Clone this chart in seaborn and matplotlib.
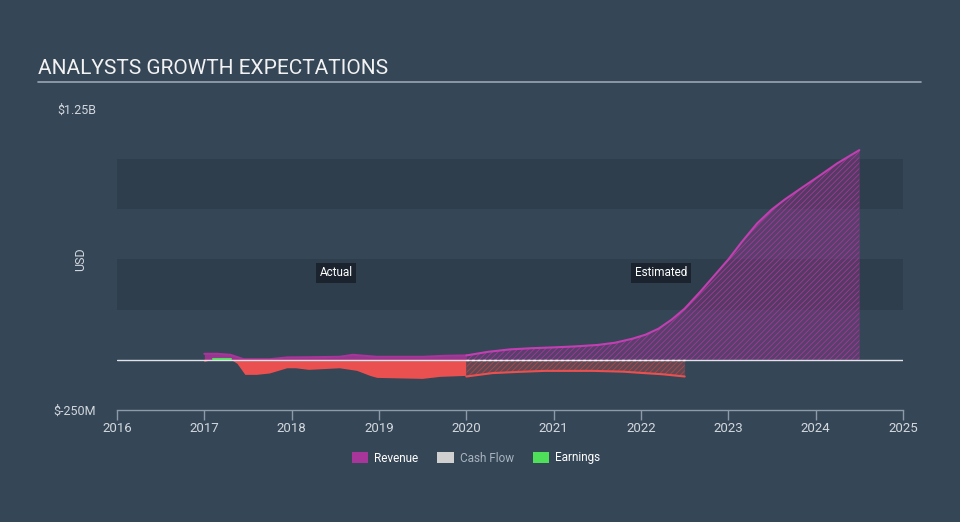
import numpy as np
import pandas as pd
import matplotlib
matplotlib.use("Agg")
import matplotlib.pyplot as plt
import seaborn as sns
from matplotlib.patches import Patch
from matplotlib.lines import Line2D

# ---- data (USD billions) ----
rev_act_x = [2017.0, 2017.15, 2017.3, 2017.45, 2017.75, 2017.95, 2018.2, 2018.55, 2018.7, 2018.98, 2019.5, 2019.75, 2020.0]
rev_act_y = [0.03, 0.03, 0.025, 0.003, 0.003, 0.012, 0.013, 0.015, 0.025, 0.015, 0.015, 0.02, 0.022]
rev_est_x = [2020.0, 2020.25, 2020.5, 2020.75, 2021.0, 2021.25, 2021.5, 2021.7, 2021.9, 2022.05, 2022.2, 2022.35, 2022.5,
             2022.68, 2022.85, 2023.0, 2023.15, 2023.33, 2023.5, 2023.65, 2023.85, 2024.02, 2024.25, 2024.5]
rev_est_y = [0.022, 0.04, 0.052, 0.058, 0.062, 0.067, 0.074, 0.085, 0.105, 0.125, 0.155, 0.2, 0.255,
             0.34, 0.425, 0.5, 0.585, 0.68, 0.75, 0.8, 0.86, 0.91, 0.98, 1.045]

earn_act_x = [2017.0, 2017.1, 2017.3, 2017.38, 2017.47, 2017.6, 2017.75, 2017.95, 2018.05, 2018.2, 2018.55, 2018.75, 2018.9, 2018.98, 2019.5, 2019.7, 2020.0]
earn_act_y = [-0.012, 0.002, 0.002, -0.02, -0.075, -0.075, -0.068, -0.042, -0.042, -0.05, -0.042, -0.055, -0.08, -0.09, -0.095, -0.085, -0.08]
earn_est_x = [2020.0, 2020.3, 2020.6, 2020.9, 2021.45, 2021.8, 2022.0, 2022.25, 2022.5]
earn_est_y = [-0.083, -0.066, -0.06, -0.055, -0.055, -0.059, -0.065, -0.072, -0.083]

cf_est_x = [2020.0, 2022.5]
cf_est_y = [0.0, 0.0]

year_ticks = list(range(2016, 2026))
y_ticks = [-0.25, 1.25]
y_tick_labels = ["$-250M", "$1.25B"]

# ---- style ----
BG = "#354657"
BAND = "#2f3e4d"
TXT = "#d3d8dd"
MAG = "#a8359a"
MAG_LINE = "#c23fb2"
RED = "#ea5050"
GREEN = "#4fe05a"

sns.set_theme(style="dark", rc={"axes.facecolor": BG, "figure.facecolor": BG})
plt.rcParams["font.family"] = ["Roboto", "DejaVu Sans"]
plt.rcParams["hatch.linewidth"] = 0.6

fig = plt.figure(figsize=(9.6, 5.22), dpi=100)
ax = fig.add_axes([117 / 960, 1 - 410 / 522, 786 / 960, 301 / 522])
ax.set_facecolor(BG)
ax.set_xlim(2016, 2025)
ax.set_ylim(-0.25, 1.25)

for lo, hi in [(0.25, 0.5), (0.75, 1.0)]:
    ax.axhspan(lo, hi, color=BAND, lw=0, zorder=0)

# revenue actual
ax.fill_between(rev_act_x, 0, rev_act_y, color=MAG, alpha=0.85, lw=0, zorder=2)
sns.lineplot(x=rev_act_x, y=rev_act_y, ax=ax, color=MAG, lw=1.5, zorder=3)
# revenue estimated (hatched)
ax.fill_between(rev_est_x, 0, rev_est_y, facecolor=MAG, alpha=0.3, lw=0, zorder=2)
ax.fill_between(rev_est_x, 0, rev_est_y, facecolor="none", edgecolor=MAG, hatch="//////", lw=0, zorder=2)
sns.lineplot(x=rev_est_x, y=rev_est_y, ax=ax, color=MAG_LINE, lw=1.5, zorder=3)

# earnings actual
ea_x = np.array(earn_act_x)
ea_y = np.array(earn_act_y)
ax.fill_between(ea_x, 0, ea_y, where=ea_y < 0, interpolate=True, color=RED, lw=0, zorder=4)
pos = np.ma.masked_where(ea_y < 0, ea_y)
ax.plot(ea_x, pos, color=GREEN, lw=1.5, zorder=5)
# earnings estimated
ax.fill_between(earn_est_x, 0, earn_est_y, facecolor=RED, alpha=0.25, lw=0, zorder=4)
ax.fill_between(earn_est_x, 0, earn_est_y, facecolor="none", edgecolor="#b04848", hatch="//////", lw=0, zorder=4)
sns.lineplot(x=earn_est_x, y=earn_est_y, ax=ax, color=RED, lw=1.5, zorder=5)

# zero line
ax.axhline(0, color="#dfe3e7", lw=1.0, zorder=6)
# cash flow estimate
ax.plot(cf_est_x, cf_est_y, color="#f4f4f4", lw=1.0, ls=(0, (2, 2)), zorder=7)

# labels
box = dict(boxstyle="square,pad=0.3", facecolor="#1b242e", edgecolor="none")
ax.text(2018.51, 0.435, "Actual", color="white", fontsize=8.5, ha="center", va="center", bbox=box, zorder=8)
ax.text(2022.23, 0.435, "Estimated", color="white", fontsize=8.5, ha="center", va="center", bbox=box, zorder=8)

# axes styling
for s in ["top", "right", "left"]:
    ax.spines[s].set_visible(False)
ax.spines["bottom"].set_color("#8d9aa7")
ax.spines["bottom"].set_linewidth(1)
ax.set_xticks(year_ticks)
ax.set_xticklabels([str(y) for y in year_ticks], color=TXT, fontsize=9.5)
ax.tick_params(axis="x", direction="out", length=7, width=1, color="#8d9aa7", pad=2, bottom=True)
ax.set_yticks(y_ticks)
ax.set_yticklabels(y_tick_labels, color=TXT, fontsize=9)
ax.tick_params(axis="y", length=0, pad=15)
ax.set_ylabel("USD", color=TXT, fontsize=9)
ax.yaxis.set_label_coords(-0.038, 0.5)
ax.set_xlabel("")
ax.grid(False)

# title
fig.text(38 / 960, 1 - 69 / 522, "ANALYSTS GROWTH EXPECTATIONS", color="#f2f2f2", fontsize=15, ha="left", va="center")
fig.add_artist(Line2D([38 / 960, 921 / 960], [1 - 82 / 522] * 2, color="#9aa6b2", lw=1.2))

# legend
handles = [Patch(facecolor=MAG, edgecolor="none"), Patch(facecolor="#d0d0d0", edgecolor="none"), Patch(facecolor=GREEN, edgecolor="none")]
leg = fig.legend(handles, ["Revenue", "Cash Flow", "Earnings"], loc="center", bbox_to_anchor=(0.496, 1 - 458 / 522),
                 ncol=3, frameon=False, fontsize=8.5, handlelength=1.4, handleheight=1.0, columnspacing=1.6, handletextpad=0.5)
for t, c in zip(leg.get_texts(), ["white", "#aab4be", "white"]):
    t.set_color(c)

fig.savefig("out.png", dpi=100, facecolor=BG)
